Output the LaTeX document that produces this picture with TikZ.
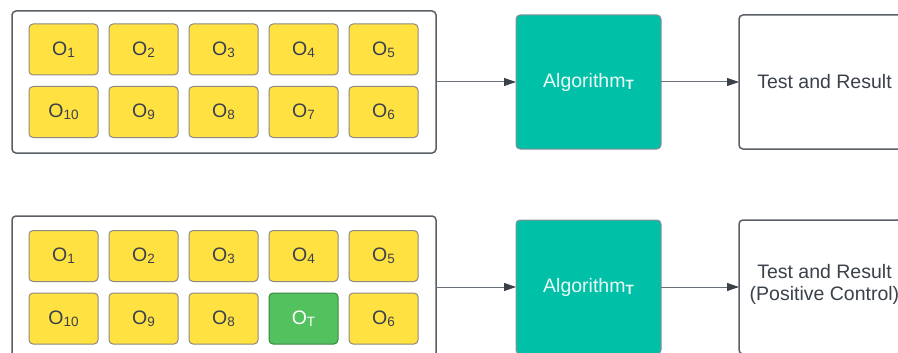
\documentclass[tikz,border=0pt]{standalone}
\usepackage{fontspec}
\setmainfont{Liberation Sans}
\usetikzlibrary{arrows.meta}
\definecolor{txt}{HTML}{3A414A}
\definecolor{frame}{HTML}{5A5F66}
\definecolor{yel}{HTML}{FFE142}
\definecolor{yelb}{HTML}{8C8A80}
\definecolor{teal}{HTML}{00C1A7}
\definecolor{grn}{HTML}{53C15E}
\definecolor{lin}{HTML}{6A707A}
\newcommand\sbs[1]{\raisebox{-2.2pt}{\fontsize{13.5}{14}\selectfont #1}}
\tikzset{
  every node/.style={inner sep=0pt, outer sep=0pt, font=\fontsize{19.5}{21.5}\selectfont, text=txt},
  container/.style={draw=frame, line width=1.5pt, rounded corners=4pt, fill=white, minimum width=424pt, minimum height=142pt},
  obox/.style={draw=yelb, line width=1pt, fill=yel, rounded corners=4pt, minimum width=69pt, minimum height=51pt},
  tbox/.style={obox, fill=grn, draw=grn!70!black, text=white},
  algbox/.style={draw=lin!80, line width=1pt, fill=teal, rounded corners=4pt, minimum width=145pt, minimum height=134pt, text=white!92!teal},
  resbox/.style={draw=frame, line width=1.5pt, fill=white, rounded corners=4pt, minimum width=171pt, minimum height=134pt, align=center},
  arr/.style={draw=lin, line width=1pt, -{Triangle[length=12pt,width=8pt,color=txt]}}
}
\begin{document}
\begin{tikzpicture}[x=1pt,y=-1pt]
\useasboundingbox (0,0) rectangle (898,353);
\clip (0,0) rectangle (898,353);
% top row
\node[container] (c1) at (224,82) {};
\node[obox] (a1) at (63.5,49.5) {O\sbs{1}};
\node[obox] (a2) at (143.5,49.5) {O\sbs{2}};
\node[obox] (a3) at (223.5,49.5) {O\sbs{3}};
\node[obox] (a4) at (303.5,49.5) {O\sbs{4}};
\node[obox] (a5) at (383.5,49.5) {O\sbs{5}};
\node[obox] (a10) at (63.5,112) {O\sbs{10}};
\node[obox] (a9) at (143.5,112) {O\sbs{9}};
\node[obox] (a8) at (223.5,112) {O\sbs{8}};
\node[obox] (a7) at (303.5,112) {O\sbs{7}};
\node[obox] (a6) at (383.5,112) {O\sbs{6}};
\node[algbox] (alg1) at (588.5,82) {Algorithm\sbs{\textbf{T}}};
\node[resbox] (res1) at (824.5,82) {\raisebox{2pt}{Test and Result}};
\draw[arr] (c1) -- (alg1);
\draw[arr] (alg1) -- (res1);
% bottom row
\node[container] (c2) at (224,287) {};
\node[obox] (b1) at (63.5,256) {O\sbs{1}};
\node[obox] (b2) at (143.5,256) {O\sbs{2}};
\node[obox] (b3) at (223.5,256) {O\sbs{3}};
\node[obox] (b4) at (303.5,256) {O\sbs{4}};
\node[obox] (b5) at (383.5,256) {O\sbs{5}};
\node[obox] (b10) at (63.5,318.5) {O\sbs{10}};
\node[obox] (b9) at (143.5,318.5) {O\sbs{9}};
\node[obox] (b8) at (223.5,318.5) {O\sbs{8}};
\node[tbox] (bt) at (303.5,318.5) {O\sbs{T}};
\node[obox] (b6) at (383.5,318.5) {O\sbs{6}};
\node[algbox] (alg2) at (588.5,287) {Algorithm\sbs{\textbf{T}}};
\node[resbox] (res2) at (824.5,287) {};
\node[align=center] (res2t) at (824.5,284.5) {Test and Result\\(Positive Control)};
\draw[arr] (c2) -- (alg2);
\draw[arr] (alg2) -- (res2);
\end{tikzpicture}
\end{document}
